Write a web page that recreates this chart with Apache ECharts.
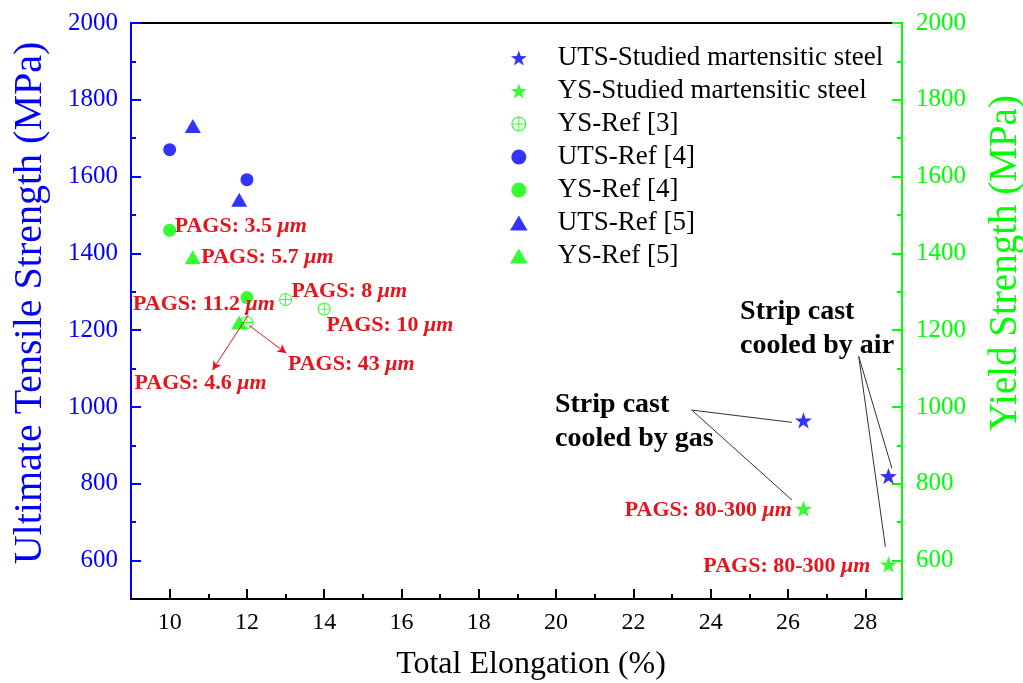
<!DOCTYPE html>
<html>
<head>
<meta charset="utf-8">
<script src="https://cdn.jsdelivr.net/npm/echarts@6/dist/echarts.min.js"></script>
<style>
html,body{margin:0;padding:0;background:#fff;}
#chart{width:1023px;height:683px;}
</style>
</head>
<body>
<div id="chart"></div>
<script>
// ---- data ----
const xMajorTicks = [10, 12, 14, 16, 18, 20, 22, 24, 26, 28];
const xMinorTicks = [11, 13, 15, 17, 19, 21, 23, 25, 27];
const yMajorTicks = [600, 800, 1000, 1200, 1400, 1600, 1800, 2000];
const yMinorTicks = [700, 900, 1100, 1300, 1500, 1700, 1900];

const utsStudied = [[26.4, 965], [28.6, 820]];
const ysStudied = [[26.4, 735], [28.6, 590]];
const ysRef3 = [[12, 1220], [13, 1280], [14, 1255]];
const utsRef4 = [[10, 1670], [12, 1592]];
const ysRef4 = [[10, 1460], [12, 1285]];
const utsRef5 = [[10.6, 1732], [11.8, 1540]];
const ysRef5 = [[10.6, 1390], [11.8, 1220]];

const seriesNames = ['UTS-Studied martensitic steel', 'YS-Studied martensitic steel', 'YS-Ref [3]',
  'UTS-Ref [4]', 'YS-Ref [4]', 'UTS-Ref [5]', 'YS-Ref [5]'];

// annotation texts (data coordinates of text anchor)
const pagsLabels = [
  { value: '3.5', at: [10.13, 1471], align: 'left' },
  { value: '5.7', at: [10.82, 1391], align: 'left' },
  { value: '11.2', at: [9.05, 1267], align: 'left' },
  { value: '8', at: [13.15, 1300], align: 'left' },
  { value: '10', at: [14.06, 1213], align: 'left' },
  { value: '43', at: [13.06, 1112], align: 'left' },
  { value: '4.6', at: [9.09, 1061], align: 'left' },
  { value: '80-300', at: [26.10, 732], align: 'right' },
  { value: '80-300', at: [23.81, 586], align: 'left' }
];
const notes = [
  { lines: ['Strip cast', 'cooled by gas'], at: [19.97, 1050] },
  { lines: ['Strip cast', 'cooled by air'], at: [24.76, 1292] }
];
const redArrows = [
  [[12.03, 1239], [11.11, 1096]],
  [[12.05, 1213], [13.02, 1140]]
];
const leaderLines = [
  [[23.51, 992], [26.10, 960]],
  [[23.51, 992], [26.10, 758]],
  [[27.83, 1132], [28.69, 840]],
  [[27.83, 1132], [28.52, 636]]
];

// ---- style ----
const FONT = "'Liberation Serif', 'Times New Roman', serif";
const BLUE = '#0000ff';
const GREEN = '#00ff00';
const RED = '#e8141c';
const STAR = 'path://M10 0 L12.35 6.76 L19.51 6.91 L13.8 11.24 L15.88 18.09 L10 14 L4.12 18.09 L6.2 11.24 L0.49 6.91 L7.65 6.76 Z';
const TRI = 'path://M10 0 L20 17 L0 17 Z';
const OPLUS = 'path://M0 10 A10 10 0 1 1 20 10 A10 10 0 1 1 0 10 Z M1.6 10 A8.4 8.4 0 1 0 18.4 10 A8.4 8.4 0 1 0 1.6 10 Z M0.8 9.3 L19.2 9.3 L19.2 10.7 L0.8 10.7 Z M9.3 0.8 L10.7 0.8 L10.7 19.2 L9.3 19.2 Z';

const X_MIN = 9, X_MAX = 28.95, Y_MIN = 500, Y_MAX = 2000;

const chart = echarts.init(document.getElementById('chart'));

function xAxisBase() {
  return { type: 'value', min: X_MIN, max: X_MAX, gridIndex: 0, splitLine: { show: false } };
}
function yAxisBase() {
  return { type: 'value', min: Y_MIN, max: Y_MAX, gridIndex: 0, splitLine: { show: false } };
}
const plain = v => String(v);

const option = {
  animation: false,
  backgroundColor: '#fff',
  textStyle: { fontFamily: FONT },
  grid: { left: 131, right: 121, top: 23, bottom: 84, show: true, borderColor: '#000', borderWidth: 2,
    backgroundColor: 'transparent', containLabel: false, outerBoundsMode: 'none' },
  legend: {
    orient: 'vertical', left: 505, top: 39,
    itemWidth: 68, itemHeight: 15, itemGap: 5,
    textStyle: { fontSize: 27, lineHeight: 28, color: '#000', fontFamily: FONT },
    data: seriesNames
  },
  xAxis: [
    Object.assign(xAxisBase(), {
      position: 'bottom',
      axisLine: { show: true, onZero: false, lineStyle: { color: '#000', width: 2 } },
      axisTick: { show: true, inside: true, length: 10, customValues: xMajorTicks, lineStyle: { color: '#000', width: 2 } },
      axisLabel: { show: true, customValues: xMajorTicks, formatter: plain, fontSize: 24, color: '#000', margin: 12, fontFamily: FONT }
    }),
    Object.assign(xAxisBase(), {
      position: 'bottom',
      axisLine: { show: false, onZero: false },
      axisTick: { show: true, inside: true, length: 5, customValues: xMinorTicks, lineStyle: { color: '#000', width: 2 } },
      axisLabel: { show: false }
    })
  ],
  yAxis: [
    Object.assign(yAxisBase(), {
      position: 'left',
      axisLine: { show: true, onZero: false, lineStyle: { color: BLUE, width: 2 } },
      axisTick: { show: true, inside: true, length: 10, customValues: yMajorTicks, lineStyle: { color: BLUE, width: 2 } },
      axisLabel: { show: true, customValues: yMajorTicks, formatter: plain, fontSize: 25, color: BLUE, margin: 13, fontFamily: FONT }
    }),
    Object.assign(yAxisBase(), {
      position: 'left',
      axisLine: { show: false, onZero: false },
      axisTick: { show: true, inside: true, length: 5, customValues: yMinorTicks, lineStyle: { color: BLUE, width: 2 } },
      axisLabel: { show: false }
    }),
    Object.assign(yAxisBase(), {
      position: 'right',
      axisLine: { show: true, onZero: false, lineStyle: { color: GREEN, width: 2 } },
      axisTick: { show: true, inside: true, length: 10, customValues: yMajorTicks, lineStyle: { color: GREEN, width: 2 } },
      axisLabel: { show: true, customValues: yMajorTicks, formatter: plain, fontSize: 25, color: GREEN, margin: 14, fontFamily: FONT }
    }),
    Object.assign(yAxisBase(), {
      position: 'right',
      axisLine: { show: false, onZero: false },
      axisTick: { show: true, inside: true, length: 5, customValues: yMinorTicks, lineStyle: { color: GREEN, width: 2 } },
      axisLabel: { show: false }
    })
  ],
  series: [
    { name: seriesNames[0], type: 'scatter', yAxisIndex: 0, data: utsStudied, symbol: STAR, symbolSize: 17, symbolKeepAspect: true, itemStyle: { color: BLUE } },
    { name: seriesNames[1], type: 'scatter', yAxisIndex: 2, data: ysStudied, symbol: STAR, symbolSize: 17, symbolKeepAspect: true, itemStyle: { color: GREEN },
      markLine: {
        silent: true, symbol: ['none', 'none'], label: { show: false },
        lineStyle: { color: '#333', width: 1, type: 'solid' },
        data: leaderLines.map(l => [{ coord: l[0] }, { coord: l[1] }])
      }
    },
    { name: seriesNames[2], type: 'scatter', yAxisIndex: 2, data: ysRef3, symbol: OPLUS, symbolSize: 13, itemStyle: { color: GREEN } },
    { name: seriesNames[3], type: 'scatter', yAxisIndex: 0, data: utsRef4, symbol: 'circle', symbolSize: 13, itemStyle: { color: BLUE } },
    { name: seriesNames[4], type: 'scatter', yAxisIndex: 2, data: ysRef4, symbol: 'circle', symbolSize: 13, itemStyle: { color: GREEN } },
    { name: seriesNames[5], type: 'scatter', yAxisIndex: 0, data: utsRef5, symbol: TRI, symbolSize: [16, 14], itemStyle: { color: BLUE } },
    { name: seriesNames[6], type: 'scatter', yAxisIndex: 2, data: ysRef5, symbol: TRI, symbolSize: [16, 14], itemStyle: { color: GREEN },
      markLine: {
        silent: true, symbol: ['none', 'arrow'], symbolSize: [7, 9], label: { show: false },
        lineStyle: { color: RED, width: 1, type: 'solid' },
        data: redArrows.map(l => [{ coord: l[0] }, { coord: l[1] }])
      }
    }
  ]
};
chart.setOption(option);

// annotation texts placed through the chart's coordinate conversion
function toPx(p) { return chart.convertToPixel({ xAxisIndex: 0, yAxisIndex: 0 }, p); }
const graphics = [];
pagsLabels.forEach(l => {
  const p = toPx(l.at);
  graphics.push({
    type: 'text', x: p[0], y: p[1], z: 50, silent: true,
    style: {
      text: '{b|PAGS: ' + l.value + ' }{i|\u03bcm}',
      align: l.align, verticalAlign: 'middle',
      rich: {
        b: { fontFamily: FONT, fontWeight: 'bold', fontSize: 22, fill: RED },
        i: { fontFamily: FONT, fontWeight: 'bold', fontStyle: 'italic', fontSize: 22, fill: RED }
      }
    }
  });
});
notes.forEach(n => {
  const p = toPx(n.at);
  graphics.push({
    type: 'text', x: p[0], y: p[1], z: 50, silent: true,
    style: {
      text: n.lines.join('\n'), align: 'left', verticalAlign: 'top',
      font: 'bold 28px ' + FONT, lineHeight: 34, fill: '#000'
    }
  });
});
// axis titles
graphics.push({
  type: 'text', x: 531, y: 665, silent: true,
  style: { text: 'Total Elongation (%)', align: 'center', verticalAlign: 'middle',
    font: '32px ' + FONT, fill: '#000' }
});
graphics.push({
  type: 'text', x: 30, y: 303, rotation: Math.PI / 2, silent: true,
  style: { text: 'Ultimate Tensile Strength (MPa)', align: 'center', verticalAlign: 'middle',
    font: '40px ' + FONT, fill: BLUE }
});
graphics.push({
  type: 'text', x: 1006, y: 263, rotation: Math.PI / 2, silent: true,
  style: { text: 'Yield Strength (MPa)', align: 'center', verticalAlign: 'middle',
    font: '39px ' + FONT, fill: GREEN }
});
chart.setOption({ graphic: graphics });
</script>
</body>
</html>
